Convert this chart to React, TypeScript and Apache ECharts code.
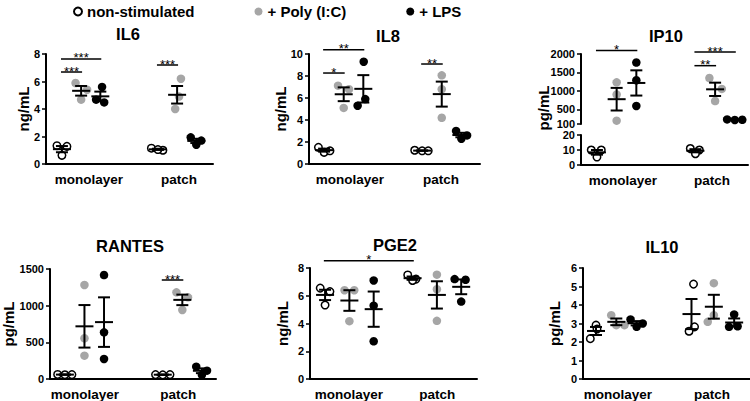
import React, { useEffect, useRef } from 'react';
import * as echarts from 'echarts';

const TREATMENTS = ['non-stimulated', '+ Poly (I:C)', '+ LPS'];
const CONDITIONS = ['monolayer', 'patch'];
const PANEL_TITLES = ['IL6', 'IL8', 'IP10', 'RANTES', 'PGE2', 'IL10'];
const UNITS = ['ng/mL', 'ng/mL', 'pg/mL', 'pg/mL', 'ng/mL', 'pg/mL'];

// groups per panel: monolayer (non, poly, lps), patch (non, poly, lps)
const IL6 = [[1.33, 1.28, 0.63], [5.89, 5.4, 4.68], [5.6, 4.68, 4.48], [1.15, 1.0, 1.05], [6.2, 4.9, 4.0], [1.94, 1.7, 1.4]];
const IL8 = [[1.52, 1.06, 1.2], [7.12, 6.8, 5.1], [9.3, 5.9, 5.3], [1.25, 1.2, 1.2], [8.06, 6.8, 4.2], [3.0, 2.6, 2.3]];
const IP10 = [[10, 10, 5.3], [1230, 900, 190], [1768, 1286, 589], [11, 10, 7.5], [1348, 1053, 723], [225, 210, 215]];
const RANTES = [[62, 58, 60], [1282, 555, 318], [1418, 636, 273], [60, 56, 60], [1182, 1114, 941], [168, 114, 55]];
const PGE2 = [[6.55, 6.3, 5.33], [6.4, 6.4, 4.17], [7.1, 5.28, 2.72], [7.5, 7.2, 7.1], [7.52, 6.47, 4.19], [7.2, 7.15, 5.58]];
const IL10 = [[2.18, 2.91, 2.7], [3.45, 2.91, 2.91], [3.22, 2.82, 3.0], [5.13, 2.82, 2.58], [5.18, 3.45, 3.09], [3.49, 2.82, 2.85]];

// horizontal scatter spread of each dot within its group
const IL6_JIT = [[-0.26, 0.26, 0], [-0.29, 0.31, 0], [0.09, -0.22, 0.2], [-0.34, 0.26, 0], [0.2, 0.1, -0.1], [-0.29, 0.26, 0]];
const IL8_JIT = [[-0.29, 0, 0.3], [-0.29, 0.27, 0], [0.02, 0.1, -0.29], [-0.38, 0, 0.31], [0, 0, 0], [-0.27, 0.29, 0]];
const IP10_JIT = [[-0.29, 0.22, 0], [0, 0, 0], [0, 0, 0], [-0.26, 0.2, 0], [-0.29, 0.34, 0], [-0.39, 0, 0.38]];
const RANTES_JIT = [[-0.37, 0, 0.36], [0, 0, 0], [0, 0, 0], [-0.37, 0, 0.37], [-0.3, 0.29, 0], [-0.29, 0.26, 0]];
const PGE2_JIT = [[-0.2, 0.2, 0], [-0.2, 0.2, 0], [0, 0, 0], [-0.2, 0.14, 0], [0, 0, 0], [-0.27, 0.18, 0]];
const IL10_JIT = [[-0.28, 0, 0.05], [-0.25, 0, 0.4], [-0.3, 0, 0.3], [0.1, 0.15, -0.12], [0, 0, -0.3], [0, -0.25, 0.17]];

// significance: [group A, group B, level, stars]
const IL6_SIG: [number, number, number, string][] = [[0, 2, 7.64, '***'], [0, 1, 6.69, '***'], [3, 4, 7.2, '***']];
const IL8_SIG: [number, number, number, string][] = [[0, 2, 10.39, '**'], [0, 1, 8.27, '*'], [3, 4, 9.09, '**']];
const IP10_SIG: [number, number, number, string][] = [[0, 2, 2098, '*'], [3, 5, 2054, '***'], [3, 4, 1683, '**']];
const RANTES_SIG: [number, number, number, string][] = [[3, 4, 1350, '***']];
const PGE2_SIG: [number, number, number, string][] = [[0, 3, 8.53, '*']];
const IL10_SIG: [number, number, number, string][] = [];

// y tick labels
const IL6_TICKS = [0, 2, 4, 6, 8];
const IL8_TICKS = [0, 2, 4, 6, 8, 10];
const IP10_TICKS_HIGH = [100, 500, 1000, 1500, 2000];
const IP10_TICKS_LOW = [0, 10, 20];
const RANTES_TICKS = [0, 500, 1000, 1500];
const PGE2_TICKS = [0, 2, 4, 6, 8];
const IL10_TICKS = [0, 1, 2, 3, 4, 5, 6];

const PANELS = [
  { values: IL6, jit: IL6_JIT, sig: IL6_SIG, ticks: IL6_TICKS },
  { values: IL8, jit: IL8_JIT, sig: IL8_SIG, ticks: IL8_TICKS },
  { values: IP10, jit: IP10_JIT, sig: IP10_SIG, ticks: IP10_TICKS_HIGH, lowTicks: IP10_TICKS_LOW },
  { values: RANTES, jit: RANTES_JIT, sig: RANTES_SIG, ticks: RANTES_TICKS },
  { values: PGE2, jit: PGE2_JIT, sig: PGE2_SIG, ticks: PGE2_TICKS },
  { values: IL10, jit: IL10_JIT, sig: IL10_SIG, ticks: IL10_TICKS },
];

// layout (positions / sizes only)
const LAYOUT = [
  { grid: { left: 46, top: 54, width: 167, height: 110 }, xMin: 0.17, xMax: 8.87, pos: [1, 2, 3, 6, 7, 8], labelAt: [2.41, 7.1], title: [128, 34], nameGap: 15 },
  { grid: { left: 309, top: 54, width: 171, height: 110 }, xMin: 0.23, xMax: 8.95, pos: [1, 2, 3, 6, 7, 8], labelAt: [2.32, 6.96], title: [388, 36], nameGap: 21 },
  { grid: { left: 581, top: 54, width: 167, height: 70 }, low: { left: 581, top: 135, width: 167, height: 30 }, xMin: 0.19, xMax: 8.67, pos: [1, 2, 3, 6, 7, 8], labelAt: [2.32, 6.84], title: [666, 36], nameGap: 30, nameAt: [543.5, 108] },
  { grid: { left: 49, top: 269, width: 167, height: 110 }, xMin: 0.24, xMax: 8.72, pos: [1, 2, 3, 6, 7, 8], labelAt: [2.02, 6.79], title: [130, 246], nameGap: 34 },
  { grid: { left: 310, top: 268, width: 167, height: 111 }, xMin: 0.38, xMax: 7.25, pos: [1, 2, 3, 4.6, 5.6, 6.6], labelAt: [1.98, 5.61], title: [395, 245], nameGap: 20 },
  { grid: { left: 583, top: 268, width: 167, height: 111 }, xMin: 0.36, xMax: 8.58, pos: [1, 2, 3, 5.7, 6.8, 7.8], labelAt: [2.08, 6.71], title: [662, 247], nameGap: 21 },
];

const FONT = '"Liberation Sans", Arial, sans-serif';
const COLORS = ['#ffffff', '#a6a6a6', '#000000'];

const mean = (a: number[]) => a.reduce((s, v) => s + v, 0) / a.length;
const sem = (a: number[]) => {
  const m = mean(a);
  const sd = Math.sqrt(a.reduce((s, v) => s + (v - m) ** 2, 0) / (a.length - 1));
  return sd / Math.sqrt(a.length);
};

function buildOption() {
  const grid: any[] = [];
  const xAxis: any[] = [];
  const yAxis: any[] = [];
  const series: any[] = [];
  const graphic: any[] = [];

  const makeX = (lay: any, gi: number, showLabels: boolean) => {
    const mid = (lay.labelAt[0] + lay.labelAt[1]) / 2;
    return {
      type: 'value', gridIndex: gi, min: lay.xMin, max: lay.xMax,
      show: showLabels,
      axisLine: { onZero: false, lineStyle: { color: '#000', width: 2 } },
      axisTick: { show: false },
      splitLine: { show: false },
      axisLabel: {
        customValues: lay.labelAt,
        formatter: (v: number) => (v < mid ? CONDITIONS[0] : CONDITIONS[1]),
        color: '#000', fontFamily: FONT, fontWeight: 'bold', fontSize: 13.5, margin: 8,
      },
    };
  };
  const makeY = (gi: number, ticks: number[], custom: boolean, name: string, gap: number) => {
    const ax: any = {
      type: 'value', gridIndex: gi, min: ticks[0], max: ticks[ticks.length - 1],
      axisLine: { show: true, onZero: false, lineStyle: { color: '#000', width: 2 } },
      axisTick: { show: true, length: 4, lineStyle: { color: '#000', width: 1.5 } },
      splitLine: { show: false },
      axisLabel: {
        color: '#000', fontFamily: FONT, fontWeight: 'bold', fontSize: 11, margin: 6,
        formatter: (v: number) => String(v),
      },
      name, nameLocation: 'middle', nameGap: gap, nameMoveOverlap: false,
      nameTextStyle: { color: '#000', fontFamily: FONT, fontWeight: 'bold', fontSize: 15 },
    };
    if (custom) {
      ax.axisLabel.customValues = ticks;
      ax.axisTick.customValues = ticks;
    } else {
      ax.interval = ticks[1] - ticks[0];
    }
    return ax;
  };

  const meanSeries = (xi: number, data: number[][]) => ({
    type: 'custom', xAxisIndex: xi, yAxisIndex: xi, z: 5, silent: true,
    encode: { x: 0, y: 1 },
    data,
    renderItem: (_p: any, api: any) => {
      const x = api.value(0), m = api.value(1), s = api.value(2);
      const c = api.coord([x, m]);
      const t = api.coord([x, m + s]);
      const b = api.coord([x, m - s]);
      const st = { stroke: '#000', lineWidth: 2 };
      return {
        type: 'group', children: [
          { type: 'line', shape: { x1: c[0] - 9, y1: c[1], x2: c[0] + 9, y2: c[1] }, style: st },
          { type: 'line', shape: { x1: c[0], y1: t[1], x2: c[0], y2: b[1] }, style: st },
          { type: 'line', shape: { x1: c[0] - 6, y1: t[1], x2: c[0] + 6, y2: t[1] }, style: st },
          { type: 'line', shape: { x1: c[0] - 6, y1: b[1], x2: c[0] + 6, y2: b[1] }, style: st },
        ],
      };
    },
  });

  PANELS.forEach((panel, p) => {
    const lay: any = LAYOUT[p];
    const hi = grid.length;
    grid.push({ ...lay.grid, containLabel: false });
    let lo = hi;
    if (lay.low) {
      lo = grid.length;
      grid.push({ ...lay.low, containLabel: false });
      xAxis.push(makeX(lay, hi, false));
      yAxis.push(makeY(hi, panel.ticks, true, '', 0));
      xAxis.push(makeX(lay, lo, true));
      yAxis.push(makeY(lo, (panel as any).lowTicks, false, '', 0));
      graphic.push({
        type: 'text', x: lay.nameAt[0], y: lay.nameAt[1], rotation: Math.PI / 2,
        style: { text: UNITS[p], fill: '#000', font: `bold 15px ${FONT}`, textAlign: 'center', textVerticalAlign: 'middle' },
      });
    } else {
      xAxis.push(makeX(lay, hi, true));
      yAxis.push(makeY(hi, panel.ticks, false, UNITS[p], lay.nameGap));
    }

    // dots
    for (let t = 0; t < 3; t++) {
      const ai = t === 0 ? lo : hi;
      const data: number[][] = [];
      [t, t + 3].forEach((g) => {
        panel.values[g].forEach((v, k) => data.push([lay.pos[g] + panel.jit[g][k], v]));
      });
      series.push({
        type: 'scatter', name: TREATMENTS[t], xAxisIndex: ai, yAxisIndex: ai, z: 3,
        symbol: 'circle', symbolSize: t === 0 ? 7.5 : 8.5,
        itemStyle: t === 0
          ? { color: COLORS[0], borderColor: '#000', borderWidth: 1.5, opacity: 1 }
          : { color: COLORS[t], borderWidth: 0, opacity: 1 },
        emphasis: { disabled: true },
        data,
      });
    }

    // mean ± SEM
    const hiData: number[][] = [];
    const loData: number[][] = [];
    panel.values.forEach((vals, g) => {
      const row = [lay.pos[g], mean(vals), sem(vals)];
      if (g % 3 === 0 && lay.low) loData.push(row); else hiData.push(row);
    });
    series.push(meanSeries(hi, hiData));
    if (loData.length) series.push(meanSeries(lo, loData));

    // significance lines
    if (panel.sig.length) {
      const sig = panel.sig;
      series.push({
        type: 'custom', xAxisIndex: hi, yAxisIndex: hi, z: 6, silent: true, clip: false,
        encode: { x: [0, 1], y: 2 },
        data: sig.map((s, i) => [lay.pos[s[0]] - 0.05, lay.pos[s[1]] + 0.05, s[2], i]),
        renderItem: (_p: any, api: any) => {
          const a = api.coord([api.value(0), api.value(2)]);
          const b = api.coord([api.value(1), api.value(2)]);
          const stars = sig[api.value(3)][3];
          return {
            type: 'group', children: [
              { type: 'line', shape: { x1: a[0], y1: a[1], x2: b[0], y2: b[1] }, style: { stroke: '#000', lineWidth: 1.5 } },
              { type: 'text', x: (a[0] + b[0]) / 2, y: a[1] - 1, style: { text: stars, fill: '#000', font: `13px ${FONT}`, textAlign: 'center', textVerticalAlign: 'middle' } },
            ],
          };
        },
      });
    }

    graphic.push({
      type: 'text', x: lay.title[0], y: lay.title[1],
      style: { text: PANEL_TITLES[p], fill: '#000', font: `bold 16.5px ${FONT}`, textAlign: 'center', textVerticalAlign: 'middle' },
    });
  });

  return {
    animation: false,
    backgroundColor: '#ffffff',
    legend: {
      data: TREATMENTS, left: 68, top: -1, icon: 'circle', itemWidth: 8, itemHeight: 8, itemGap: 60,
      selectedMode: false,
      textStyle: { color: '#000', fontFamily: FONT, fontWeight: 'bold', fontSize: 15 },
    },
    grid, xAxis, yAxis, series, graphic,
  };
}

export default function App() {
  const ref = useRef<HTMLDivElement>(null);
  useEffect(() => {
    if (!ref.current) return;
    const chart = echarts.init(ref.current, undefined, { renderer: 'svg' });
    chart.setOption(buildOption() as any);
    return () => chart.dispose();
  }, []);
  return <div ref={ref} style={{ position: 'fixed', left: 0, top: 0, width: 750, height: 401 }} />;
}
